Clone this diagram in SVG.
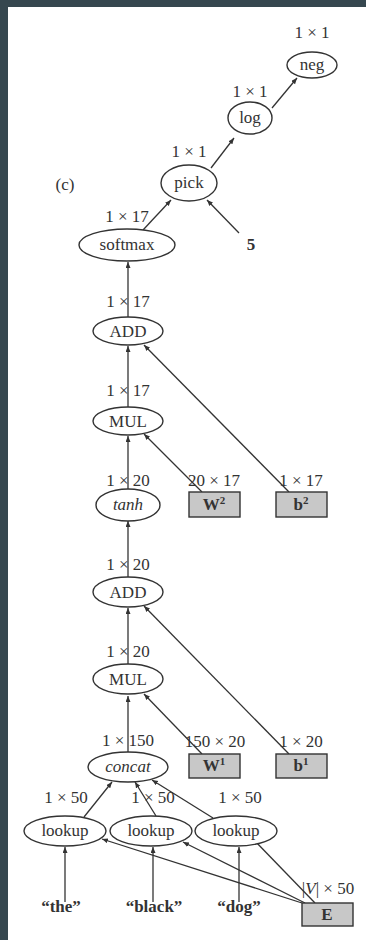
<svg xmlns="http://www.w3.org/2000/svg" width="366" height="940" viewBox="0 0 366 940">
<defs>
<marker id="ah" markerUnits="userSpaceOnUse" markerWidth="7" markerHeight="6" refX="6" refY="2.5" orient="auto">
<path d="M0,0 L6,2.5 L0,5 Z" fill="#333"/>
</marker>
<style>
text{font-family:"Liberation Serif","Times New Roman",serif;font-size:17px;fill:#333;text-anchor:middle}
.n{fill:#fff;stroke:#333;stroke-width:1.4}
.p{fill:#c8c8c8;stroke:#333;stroke-width:1.4}
.b{font-weight:bold}
.i{font-style:italic}
#edges line{stroke:#333;stroke-width:1.3;marker-end:url(#ah)}
</style>
</defs>
<rect x="0" y="0" width="366" height="940" fill="#36474f"/>
<rect x="8" y="7" width="358" height="933" fill="#fff"/>
<text x="65" y="190">(c)</text>
<g id="edges">
<line x1="272" y1="108" x2="297" y2="78"/>
<line x1="211" y1="168" x2="234" y2="138"/>
<line x1="143" y1="230" x2="171" y2="200"/>
<line x1="239" y1="233" x2="207" y2="200"/>
<line x1="128" y1="317" x2="128" y2="262"/>
<line x1="289" y1="492" x2="144" y2="345"/>
<line x1="128" y1="407" x2="128" y2="346"/>
<line x1="202" y1="492" x2="144" y2="434"/>
<line x1="128" y1="490" x2="128" y2="436"/>
<line x1="128" y1="577" x2="128" y2="521"/>
<line x1="289" y1="754" x2="144" y2="606"/>
<line x1="128" y1="664" x2="128" y2="608"/>
<line x1="202" y1="754" x2="144" y2="694"/>
<line x1="128" y1="752" x2="128" y2="696"/>
<line x1="84" y1="817" x2="112" y2="782"/>
<line x1="156" y1="816" x2="135" y2="782"/>
<line x1="213" y1="818" x2="152" y2="780"/>
<line x1="65" y1="902" x2="65" y2="847"/>
<line x1="153" y1="902" x2="153" y2="847"/>
<line x1="239" y1="902" x2="239" y2="847"/>
<line x1="302" y1="903" x2="102" y2="839"/>
<line x1="305" y1="903" x2="183" y2="842"/>
<line x1="315" y1="903" x2="253" y2="839"/>
</g>
<g id="neg"><ellipse class="n" cx="312" cy="65" rx="25" ry="13"/><text x="312" y="70">neg</text><text x="312" y="38">1 × 1</text></g>
<g id="log"><ellipse class="n" cx="250" cy="118" rx="22" ry="16"/><text x="250" y="123">log</text><text x="250" y="97">1 × 1</text></g>
<g id="pick"><ellipse class="n" cx="189" cy="183" rx="28" ry="18"/><text x="189" y="188">pick</text><text x="189" y="157">1 × 1</text></g>
<g id="five"><text class="b" x="251" y="250">5</text></g>
<g id="softmax"><ellipse class="n" cx="127" cy="245" rx="48" ry="16"/><text x="127" y="250">softmax</text><text x="127" y="222">1 × 17</text></g>
<g id="add1"><ellipse class="n" cx="128" cy="331" rx="35" ry="14"/><text x="128" y="337">ADD</text><text x="128" y="307">1 × 17</text></g>
<g id="mul1"><ellipse class="n" cx="128" cy="421" rx="35" ry="14"/><text x="128" y="427">MUL</text><text x="128" y="396">1 × 17</text></g>
<g id="tanh"><ellipse class="n" cx="128" cy="505" rx="32" ry="16"/><text class="i" x="128" y="510">tanh</text><text x="128" y="486">1 × 20</text></g>
<g id="W2"><rect class="p" x="189" y="492" width="51" height="25"/><text class="b" x="214" y="510">W<tspan font-size="11" dy="-6">2</tspan></text><text x="214" y="486">20 × 17</text></g>
<g id="b2"><rect class="p" x="276" y="492" width="51" height="25"/><text class="b" x="301" y="510">b<tspan font-size="11" dy="-6">2</tspan></text><text x="301" y="486">1 × 17</text></g>
<g id="add2"><ellipse class="n" cx="128" cy="592" rx="35" ry="15"/><text x="128" y="598">ADD</text><text x="128" y="570">1 × 20</text></g>
<g id="mul2"><ellipse class="n" cx="128" cy="679" rx="35" ry="15"/><text x="128" y="685">MUL</text><text x="128" y="657">1 × 20</text></g>
<g id="concat"><ellipse class="n" cx="128" cy="767" rx="40" ry="15"/><text class="i" x="128" y="772">concat</text><text x="128" y="746">1 × 150</text></g>
<g id="W1"><rect class="p" x="189" y="754" width="51" height="24"/><text class="b" x="214" y="771">W<tspan font-size="11" dy="-6">1</tspan></text><text x="215" y="747">150 × 20</text></g>
<g id="b1"><rect class="p" x="276" y="754" width="51" height="24"/><text class="b" x="301" y="771">b<tspan font-size="11" dy="-6">1</tspan></text><text x="301" y="747">1 × 20</text></g>
<g id="lookup1"><ellipse class="n" cx="65" cy="831" rx="41" ry="15"/><text x="65" y="836">lookup</text><text x="66" y="803">1 × 50</text></g>
<g id="lookup2"><ellipse class="n" cx="151" cy="831" rx="41" ry="15"/><text x="151" y="836">lookup</text><text x="153" y="803">1 × 50</text></g>
<g id="lookup3"><ellipse class="n" cx="236" cy="831" rx="41" ry="15"/><text x="236" y="836">lookup</text><text x="240" y="803">1 × 50</text></g>
<g id="the"><text class="b" x="61" y="912">“the”</text></g>
<g id="black"><text class="b" x="154" y="912">“black”</text></g>
<g id="dog"><text class="b" x="239" y="912">“dog”</text></g>
<g id="E"><rect class="p" x="302" y="903" width="51" height="23"/><text class="b" x="327" y="920">E</text><text x="328" y="894">|<tspan class="i">V</tspan>| × 50</text></g>
</svg>
